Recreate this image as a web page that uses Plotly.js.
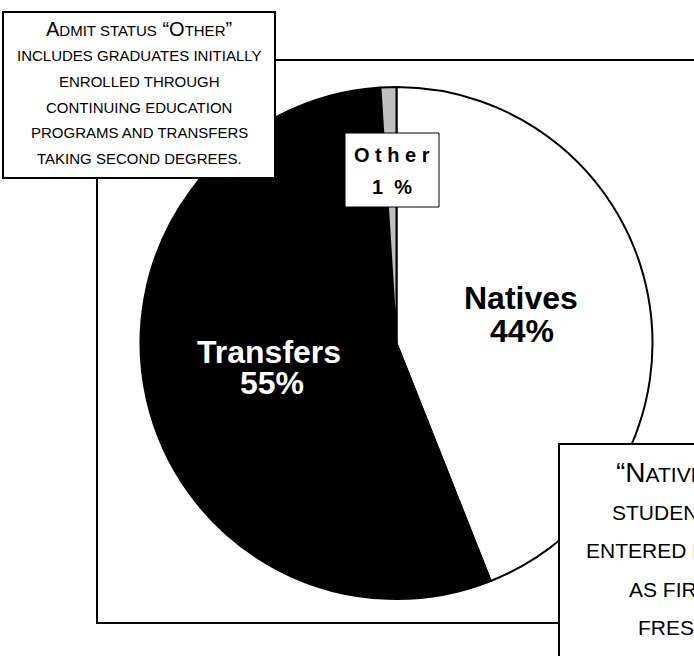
<!DOCTYPE html>
<html>
<head>
<meta charset="utf-8">
<script src="https://cdn.plot.ly/plotly-3.0.1.min.js"></script>
<style>html,body{margin:0;padding:0;background:#fff;}#chart{width:694px;height:656px;}</style>
</head>
<body>
<div id="chart"></div>
<script>
// ---- data ----
const categories = ["Natives", "Transfers", "Other"];
const shares = [44, 55, 1];
const shareLabels = ["44%", "55%", "1\u00a0\u00a0%"];
const sliceColors = ["#ffffff", "#000000", "#c0c0c0"];
const noteOther = [
  'A<span style="font-size:15px">DMIT STATUS</span> \u201cO<span style="font-size:15px">THER</span>\u201d',
  "INCLUDES GRADUATES INITIALLY",
  "ENROLLED THROUGH",
  "CONTINUING EDUCATION",
  "PROGRAMS AND TRANSFERS",
  "TAKING SECOND DEGREES."
];
const noteNatives = [
  '\u201cN<span style="font-size:21px">ATIVES\u201d ARE</span>',
  "STUDENTS WHO",
  "ENTERED DIRECTLY",
  "AS FIRST-TIME",
  "FRESHMEN."
];

// ---- layout helpers (pixel -> paper) ----
const W = 694, H = 656;
const px = x => x / W;
const py = y => 1 - y / H;
const FONT = "Liberation Sans, Arial, Helvetica, sans-serif";

const cx = 396.5, cy = 343, r = 256;

const trace = {
  type: "pie",
  labels: categories,
  values: shares,
  sort: false,
  direction: "clockwise",
  rotation: 0,
  textinfo: "none",
  hoverinfo: "skip",
  showlegend: false,
  marker: { colors: sliceColors, line: { color: "#000000", width: 2 } },
  domain: { x: [px(cx - r), px(cx + r)], y: [py(cy + r), py(cy - r)] }
};

function rect(x0, y0, x1, y1, fill, lw) {
  return { type: "rect", xref: "paper", yref: "paper", layer: "above",
    x0: px(x0), x1: px(x1), y0: py(y1), y1: py(y0),
    fillcolor: fill, line: { color: "#000000", width: lw } };
}

const shapes = [
  rect(97, 60, 740, 623, "rgba(0,0,0,0)", 2),
  rect(3, 12, 275, 178, "#ffffff", 2),
  rect(559, 444, 740, 700, "#ffffff", 2),
  rect(345, 133, 439, 207, "#ffffff", 1)
];

function ann(text, x, y, size, color, opts) {
  return Object.assign({ text: text, xref: "paper", yref: "paper", x: px(x), y: py(y),
    xanchor: "center", yanchor: "middle", showarrow: false,
    font: { family: FONT, size: size, color: color } }, opts || {});
}

const annotations = [];
// slice labels
annotations.push(ann("<b>" + categories[0] + "</b>", 521, 297.8, 32, "#000"));
annotations.push(ann("<b>" + shareLabels[0] + "</b>", 522, 330.8, 32, "#000"));
annotations.push(ann("<b>" + categories[1] + "</b>", 269, 351.8, 32, "#fff"));
annotations.push(ann("<b>" + shareLabels[1] + "</b>", 272, 382.8, 32, "#fff"));
annotations.push(ann("<b>" + categories[2].split("").join(" ") + "</b>", 392, 155, 20, "#000"));
annotations.push(ann("<b>" + shareLabels[2] + "</b>", 392, 187, 20, "#000"));

// top-left note
const noteOtherY = [29, 55.7, 81.7, 107.7, 132.7, 158.7];
noteOther.forEach((t, i) => annotations.push(ann(t, 139, noteOtherY[i], i === 0 ? 20 : 15, "#000")));

// bottom-right note (clipped by page edge)
const noteNativesX = [614, 610, 584, 627, 636];
const noteNativesY = [472.2, 512.6, 550.6, 589.6, 627.6];
noteNatives.forEach((t, i) => annotations.push(ann(t, noteNativesX[i], noteNativesY[i], i === 0 ? 28 : 21, "#000", { xanchor: "left" })));

const layout = {
  width: W, height: H,
  margin: { l: 0, r: 0, t: 0, b: 0, pad: 0 },
  paper_bgcolor: "#ffffff",
  plot_bgcolor: "#ffffff",
  showlegend: false,
  font: { family: FONT },
  shapes: shapes,
  annotations: annotations
};

Plotly.newPlot("chart", [trace], layout, { displayModeBar: false, staticPlot: true });
</script>
</body>
</html>
